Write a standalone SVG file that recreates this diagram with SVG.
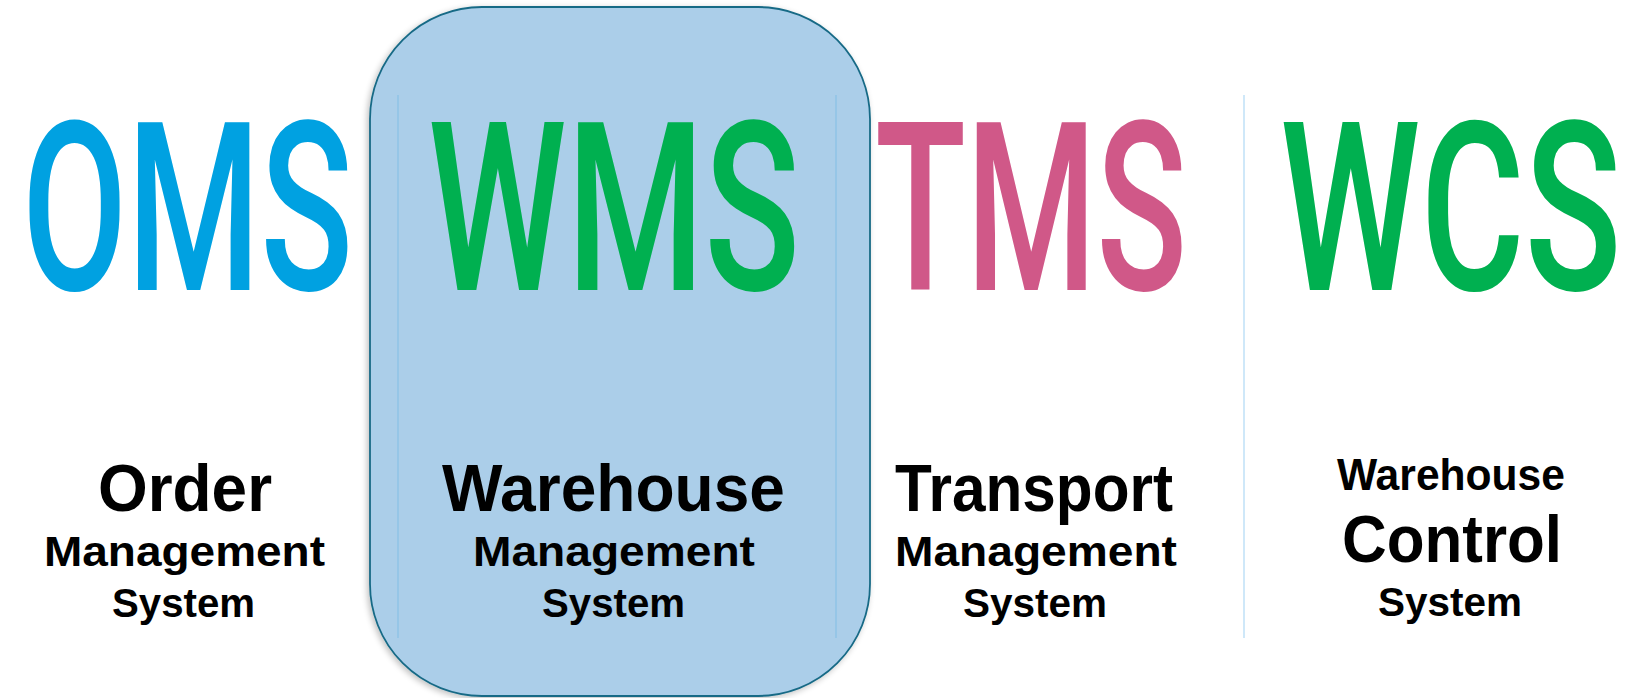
<svg xmlns="http://www.w3.org/2000/svg" width="1634" height="698" viewBox="0 0 1634 698">
<defs>
<filter id="sh" x="-10%" y="-10%" width="120%" height="120%">
<feGaussianBlur in="SourceAlpha" stdDeviation="3"/>
<feOffset dx="-2" dy="2" result="b"/>
<feComponentTransfer><feFuncA type="linear" slope="0.25"/></feComponentTransfer>
<feMerge><feMergeNode/><feMergeNode in="SourceGraphic"/></feMerge>
</filter>
<style>
.big{font-family:Roboto,"Liberation Sans",sans-serif;font-size:236px;font-weight:500}
.lbl{font-family:"Liberation Sans",Arial,sans-serif;font-weight:bold;fill:#000;text-anchor:start}
.div{stroke-width:1.5}
</style>
</defs>
<rect width="1634" height="698" fill="#ffffff"/>
<g id="highlight">
<rect x="370" y="7" width="500" height="689" rx="112" ry="112" fill="#abcee9" stroke="#186a86" stroke-width="1.8" filter="url(#sh)"/>
</g>
<g id="connectors">
<line class="div" x1="398" y1="95" x2="398" y2="638" stroke="#8fc3e6"/>
<line class="div" x1="836" y1="95" x2="836" y2="638" stroke="#8fc3e6"/>
<line class="div" x1="1244" y1="95" x2="1244" y2="638" stroke="#bfe0f7"/>
</g>
<g id="oms">
<text class="big" transform="translate(22,290) scale(0.65,1)" fill="#00a1e1" textLength="509" lengthAdjust="spacingAndGlyphs">OMS</text>
<text class="lbl" x="98" y="511" font-size="67" textLength="174" lengthAdjust="spacingAndGlyphs">Order</text>
<text class="lbl" x="44" y="566" font-size="43" textLength="281" lengthAdjust="spacingAndGlyphs">Management</text>
<text class="lbl" x="112" y="617" font-size="41" textLength="143" lengthAdjust="spacingAndGlyphs">System</text>
</g>
<g id="wms">
<text class="big" transform="translate(428,290) scale(0.65,1)" fill="#00b050" textLength="572" lengthAdjust="spacingAndGlyphs">WMS</text>
<text class="lbl" x="442" y="511" font-size="67" textLength="343" lengthAdjust="spacingAndGlyphs">Warehouse</text>
<text class="lbl" x="473" y="566" font-size="43" textLength="282" lengthAdjust="spacingAndGlyphs">Management</text>
<text class="lbl" x="542" y="617" font-size="41" textLength="143" lengthAdjust="spacingAndGlyphs">System</text>
</g>
<g id="tms">
<text class="big" transform="translate(875,290) scale(0.65,1)" fill="#d05888" textLength="480" lengthAdjust="spacingAndGlyphs">TMS</text>
<text class="lbl" x="895" y="511" font-size="67" textLength="278" lengthAdjust="spacingAndGlyphs">Transport</text>
<text class="lbl" x="895" y="566" font-size="43" textLength="282" lengthAdjust="spacingAndGlyphs">Management</text>
<text class="lbl" x="963" y="617" font-size="41" textLength="144" lengthAdjust="spacingAndGlyphs">System</text>
</g>
<g id="wcs">
<text class="big" transform="translate(1280,290) scale(0.65,1)" fill="#00b050" textLength="525" lengthAdjust="spacingAndGlyphs">WCS</text>
<text class="lbl" x="1337" y="490" font-size="44" textLength="228" lengthAdjust="spacingAndGlyphs">Warehouse</text>
<text class="lbl" x="1342" y="562" font-size="67" textLength="220" lengthAdjust="spacingAndGlyphs">Control</text>
<text class="lbl" x="1378" y="616" font-size="41" textLength="144" lengthAdjust="spacingAndGlyphs">System</text>
</g>
</svg>
